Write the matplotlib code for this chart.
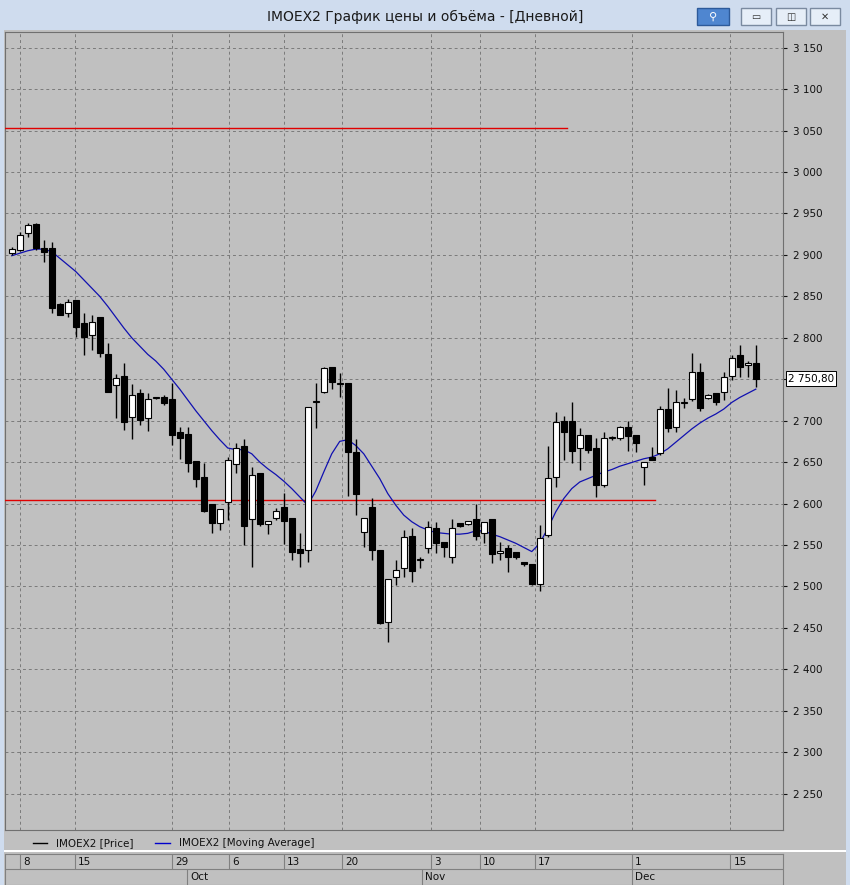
import matplotlib
matplotlib.use("Agg")
import matplotlib.pyplot as plt
import matplotlib.patches as mpatches
import numpy as np

# ----- data ------------------------------------------------------------------
opens = [2902, 2906, 2927, 2937, 2908, 2908, 2841, 2830, 2846, 2818,
         2803, 2825, 2780, 2743, 2754, 2704, 2733, 2703, 2727, 2729,
         2726, 2686, 2684, 2651, 2632, 2599, 2577, 2602, 2648, 2670,
         2581, 2637, 2575, 2582, 2596, 2582, 2545, 2544, 2722, 2735,
         2765, 2744, 2745, 2662, 2566, 2596, 2544, 2457, 2511, 2522,
         2561, 2532, 2546, 2570, 2553, 2535, 2576, 2575, 2581, 2565,
         2581, 2540, 2546, 2541, 2530, 2527, 2503, 2562, 2632, 2700,
         2700, 2667, 2683, 2667, 2622, 2679, 2679, 2692, 2683, 2644,
         2656, 2661, 2714, 2692, 2721, 2726, 2759, 2727, 2733, 2735,
         2754, 2779, 2767, 2770]
closes = [2907, 2924, 2936, 2908, 2904, 2836, 2828, 2843, 2813, 2801,
          2819, 2782, 2735, 2751, 2698, 2731, 2701, 2726, 2727, 2721,
          2683, 2679, 2649, 2630, 2591, 2576, 2593, 2652, 2667, 2573,
          2634, 2575, 2579, 2591, 2579, 2541, 2540, 2716, 2722, 2763,
          2747, 2744, 2662, 2611, 2583, 2544, 2456, 2509, 2520, 2559,
          2518, 2532, 2572, 2552, 2547, 2571, 2573, 2579, 2561, 2578,
          2539, 2543, 2535, 2535, 2527, 2503, 2558, 2631, 2698, 2686,
          2663, 2683, 2664, 2622, 2679, 2679, 2692, 2681, 2673, 2650,
          2653, 2714, 2691, 2722, 2721, 2759, 2715, 2731, 2722, 2753,
          2776, 2765, 2769, 2750.8]
highs = [2909, 2928, 2939, 2938, 2918, 2916, 2842, 2847, 2846, 2830,
         2828, 2825, 2794, 2756, 2770, 2744, 2738, 2733, 2728, 2731,
         2745, 2692, 2692, 2651, 2649, 2599, 2593, 2656, 2673, 2678,
         2644, 2637, 2579, 2594, 2613, 2582, 2564, 2716, 2745, 2765,
         2765, 2757, 2745, 2678, 2583, 2607, 2544, 2509, 2532, 2568,
         2570, 2535, 2579, 2578, 2553, 2581, 2577, 2579, 2600, 2578,
         2581, 2553, 2550, 2541, 2530, 2527, 2574, 2669, 2710, 2706,
         2722, 2691, 2683, 2679, 2686, 2682, 2693, 2700, 2683, 2650,
         2668, 2718, 2739, 2737, 2727, 2782, 2770, 2732, 2733, 2759,
         2779, 2791, 2772, 2791]
lows = [2900, 2905, 2922, 2906, 2892, 2830, 2827, 2825, 2801, 2779,
        2785, 2777, 2735, 2703, 2689, 2678, 2695, 2687, 2726, 2719,
        2671, 2654, 2638, 2620, 2590, 2565, 2568, 2580, 2637, 2550,
        2523, 2573, 2563, 2580, 2551, 2532, 2523, 2530, 2691, 2733,
        2738, 2729, 2609, 2586, 2547, 2532, 2455, 2433, 2502, 2511,
        2505, 2522, 2540, 2540, 2535, 2528, 2572, 2574, 2556, 2552,
        2528, 2532, 2517, 2533, 2525, 2502, 2494, 2560, 2620, 2652,
        2649, 2640, 2661, 2608, 2620, 2677, 2677, 2663, 2662, 2622,
        2652, 2659, 2686, 2686, 2715, 2724, 2712, 2726, 2719, 2725,
        2749, 2753, 2753, 2741]
moving_avg = [2899, 2902, 2905, 2907, 2907, 2904, 2896, 2888, 2880, 2870,
              2860, 2850, 2838, 2825, 2812, 2800, 2790, 2780, 2772, 2762,
              2750, 2738, 2725, 2712, 2700, 2688, 2677, 2667, 2665, 2665,
              2660, 2650, 2642, 2635, 2627, 2618, 2608, 2598, 2615, 2638,
              2660, 2675, 2677, 2670, 2660, 2645, 2630, 2612, 2598, 2586,
              2578, 2572, 2568, 2565, 2564, 2563, 2563, 2564, 2567, 2567,
              2563, 2560, 2556, 2552, 2547, 2542, 2552, 2570, 2590, 2606,
              2618, 2626, 2630, 2634, 2638, 2641, 2645, 2648, 2651, 2654,
              2656, 2660, 2666, 2674, 2682, 2690, 2697, 2703, 2708, 2714,
              2722, 2728, 2733, 2738]

level_prices = [3053, 2604]
level_ends = [69.4, 80.4]

day_tick_pos = [1.0, 7.9, 20.0, 27.2, 34.0, 41.3, 52.4, 58.5, 65.4, 77.5, 89.8]
day_tick_labels = ["8", "15", "29", "6", "13", "20", "3", "10", "17", "1", "15"]
month_pos = [21.9, 51.3, 77.5]
month_labels = ["Oct", "Nov", "Dec"]

last_price_label = "2 750,80"

# ----- style -----------------------------------------------------------------
PANEL = "#c0c0c0"
FRAME = "#cfdcee"
GRID = "#7a7a7a"
XMIN, XMAX = -0.84, 96.4
YMIN, YMAX = 2206, 3169

W, H = 850, 885
fig = plt.figure(figsize=(W / 100, H / 100), dpi=100, facecolor=FRAME)


def fx(px):
    return px / W


def fy(py):
    return 1 - py / H


# window background for the chart panel
bg = fig.add_axes([0, 0, 1, 1], zorder=0)
bg.set_xlim(0, W); bg.set_ylim(H, 0); bg.axis("off")
bg.add_patch(mpatches.Rectangle((4, 30), 842, 855, facecolor=PANEL, edgecolor="none"))
bg.add_patch(mpatches.Rectangle((4, 850), 842, 2, facecolor="white", edgecolor="none"))
bg.text(425, 17, "IMOEX2 График цены и объёма - [Дневной]", ha="center", va="center",
        fontsize=10, color="#1a1a1a")
# title-bar buttons
bg.add_patch(mpatches.Rectangle((697, 8), 32, 17, facecolor="#4f86d0", edgecolor="#2d5a9a"))
bg.text(713, 17, "⚲", ha="center", va="center", fontsize=8, color="white")
for bx, sym in [(741, "▭"), (776, "◫"), (810, "✕")]:
    bg.add_patch(mpatches.Rectangle((bx, 8), 30, 17, facecolor="#e6eef8", edgecolor="#7a8aa0"))
    bg.text(bx + 15, 17, sym, ha="center", va="center", fontsize=7, color="#333")

# legend row
bg.plot([33, 47], [843, 843], color="black", lw=1)
bg.text(56, 843, "IMOEX2 [Price]", va="center", fontsize=7.5, color="#111")
bg.plot([155, 170], [843, 843], color="#0000cc", lw=1)
bg.text(179, 843, "IMOEX2 [Moving Average]", va="center", fontsize=7.5, color="#111")

# ----- main price axes -------------------------------------------------------
ax = fig.add_axes([fx(5), fy(830), fx(778), fy(32) - fy(830)], zorder=2)
ax.set_facecolor(PANEL)
ax.set_xlim(XMIN, XMAX)
ax.set_ylim(YMIN, YMAX)
for s in ax.spines.values():
    s.set_color("#707070"); s.set_linewidth(0.8)

yt = np.arange(2250, 3151, 50)
ax.set_yticks(yt)
# the 2 750 label is covered by the last-price box in the reference
ax.set_yticklabels(["" if v == 2750 else f"{v // 1000} {v % 1000:03d}" for v in yt],
                   fontsize=7.5)
ax.yaxis.tick_right()
ax.tick_params(axis="y", length=3, pad=4, colors="#111")
ax.set_xticks(day_tick_pos)
ax.tick_params(axis="x", length=0, labelbottom=False)
ax.grid(True, color=GRID, linestyle=(0, (3, 3)), linewidth=0.7)
ax.set_axisbelow(True)

for price, end in zip(level_prices, level_ends):
    ax.plot([XMIN, end], [price, price], color="#e00000", lw=1, zorder=3)

ax.plot(np.arange(len(moving_avg)), moving_avg, color="#1010b0", lw=0.9, zorder=4)

idx = np.arange(len(opens))
o = np.array(opens, float); c = np.array(closes, float)
ax.vlines(idx, lows, highs, color="black", lw=1, zorder=5)
bottoms = np.minimum(o, c)
heights = np.maximum(np.abs(c - o), 1.5)
faces = ["white" if cc >= oo else "black" for oo, cc in zip(o, c)]
ax.bar(idx, heights, bottom=bottoms, width=0.7, color=faces, edgecolor="black",
       linewidth=0.8, zorder=6)

ax.text(XMAX + 0.6, closes[-1], last_price_label, fontsize=7.5, va="center",
        ha="left", bbox=dict(boxstyle="square,pad=0.2", facecolor="white",
                             edgecolor="black", linewidth=0.7), clip_on=False)

# ----- date axis -------------------------------------------------------------
dax = fig.add_axes([fx(5), fy(885), fx(778), fy(854) - fy(885)], zorder=2)
dax.set_xlim(XMIN, XMAX); dax.set_ylim(0, 2)
dax.set_facecolor(PANEL)
dax.set_xticks([]); dax.set_yticks([])
for s in dax.spines.values():
    s.set_color("#808080"); s.set_linewidth(0.8)
dax.axhline(1.05, color="#808080", lw=0.8)
dax.vlines(day_tick_pos, 1.05, 2, color="#808080", lw=0.8)
for p, lab in zip(day_tick_pos, day_tick_labels):
    dax.text(p + 0.4, 1.5, lab, fontsize=7.5, va="center", ha="left", color="#111")
dax.vlines(month_pos, 0, 1.05, color="#808080", lw=0.8)
for p, lab in zip(month_pos, month_labels):
    dax.text(p + 0.4, 0.5, lab, fontsize=7.5, va="center", ha="left", color="#111")

fig.savefig("out.png", dpi=100, facecolor=FRAME)
